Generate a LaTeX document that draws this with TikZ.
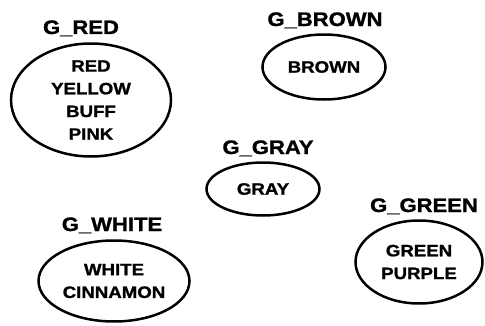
\documentclass[tikz,border=0pt]{standalone}
\usepackage{fontspec}
\setmainfont{Liberation Sans}[FakeStretch=1.13,BoldFeatures={FakeBold=1.2}]
\usetikzlibrary{shapes.geometric}
\begin{document}
\begin{tikzpicture}[x=1pt,y=1pt,
  grp/.style={draw=black, line width=2.5pt, ellipse, inner sep=0pt},
  inner/.style={align=center, font=\bfseries\fontsize{16.5}{22.7}\selectfont},
  title/.style={anchor=base, font=\bfseries\fontsize{19.5}{22}\selectfont}]
\useasboundingbox (0,0) rectangle (485,325);
\node[grp, minimum width=160pt, minimum height=113pt] (red) at (91,225) {};
\node[inner] (redtxt) at (red.center) {RED\\YELLOW\\BUFF\\PINK};
\node[title] (redlbl) at (81,291) {G\_RED};
\node[grp, minimum width=123pt, minimum height=65pt] (brown) at (324,258) {};
\node[inner] (browntxt) at (brown.center) {BROWN};
\node[title] (brownlbl) at (325,299) {G\_BROWN};
\node[grp, minimum width=113pt, minimum height=53pt] (gray) at (263,136) {};
\node[inner] (graytxt) at (gray.center) {GRAY};
\node[title] (graylbl) at (268,171) {G\_GRAY};
\node[grp, minimum width=151pt, minimum height=81pt] (white) at (114,44) {};
\node[inner] (whitetxt) at (white.center) {WHITE\\CINNAMON};
\node[title] (whitelbl) at (112,94) {G\_WHITE};
\node[grp, minimum width=127pt, minimum height=83pt] (green) at (419,63) {};
\node[inner] (greentxt) at (green.center) {GREEN\\PURPLE};
\node[title] (greenlbl) at (424,113) {G\_GREEN};
\end{tikzpicture}
\end{document}
